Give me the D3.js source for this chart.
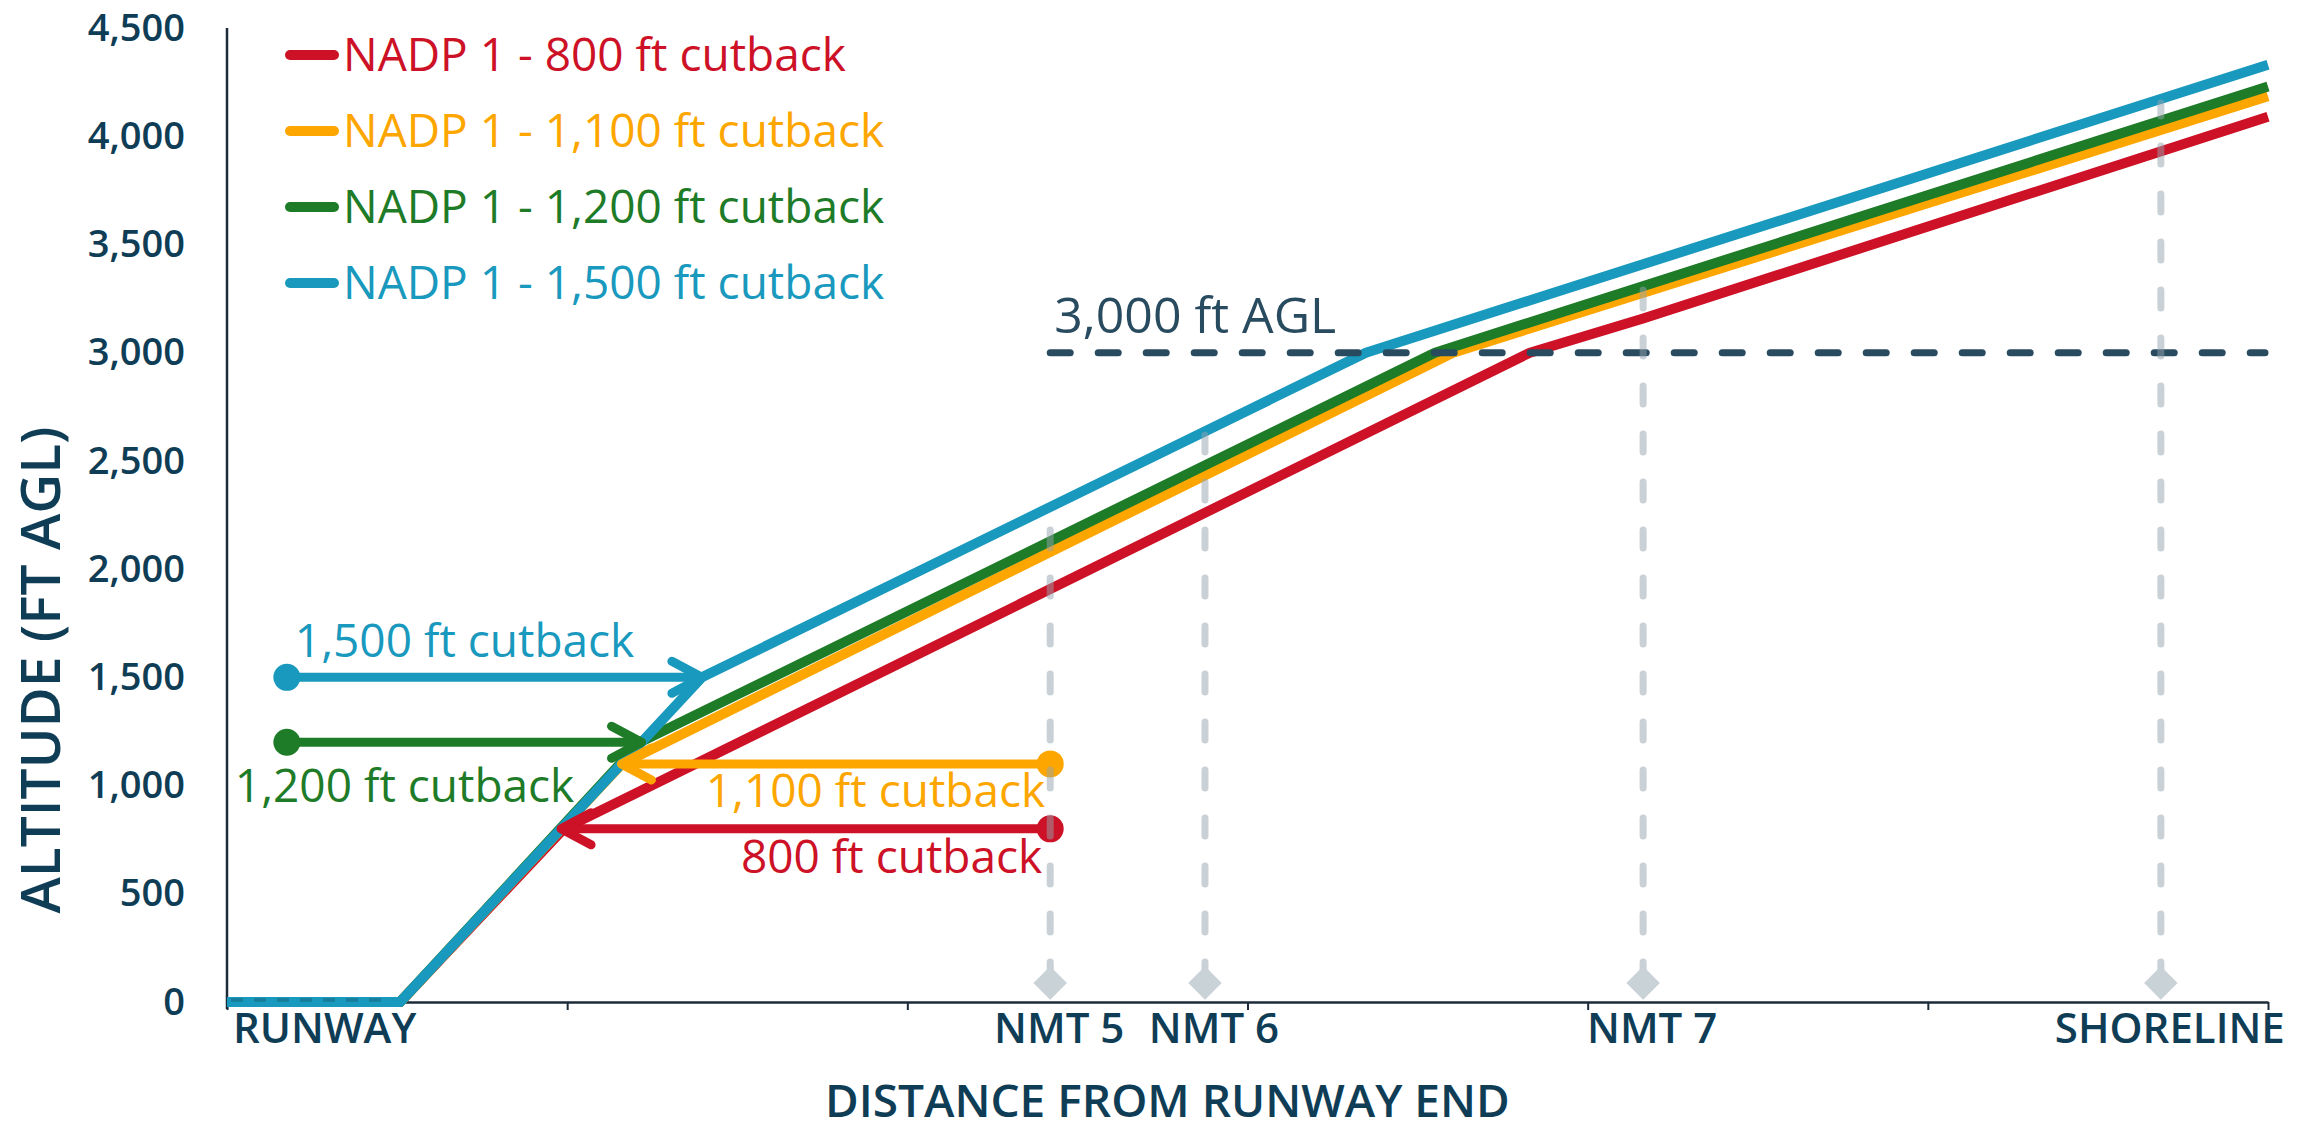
<!DOCTYPE html>
<html>
<head>
<meta charset="utf-8">
<script src="https://cdn.jsdelivr.net/npm/d3@7"></script>
<style>
  body { margin: 0; background: #fff; }
  text { font-family: "Open Sans", "Noto Sans", sans-serif; }
</style>
</head>
<body>
<div id="chart"></div>
<script>
// Dados do grafico
var altTicks = [0, 500, 1000, 1500, 2000, 2500, 3000, 3500, 4000, 4500];
var distTicks = [0, 1, 2, 3, 4, 5, 6];

var seriesNames = ["NADP 1 - 800 ft cutback", "NADP 1 - 1,100 ft cutback",
                   "NADP 1 - 1,200 ft cutback", "NADP 1 - 1,500 ft cutback"];
var cutbackLabels = ["800 ft cutback", "1,100 ft cutback", "1,200 ft cutback", "1,500 ft cutback"];
var cutbackAlt = [800, 1100, 1200, 1500];

// distancia (unidades do eixo) e altitude de cada perfil
var dist800  = [0, 0.509, 0.99, 3.830, 4.163, 6];
var alt800   = [0, 0, 800, 3000, 3158, 4090];
var dist1100 = [0, 0.509, 1.161, 3.604, 6];
var alt1100  = [0, 0, 1100, 3000, 4185];
var dist1200 = [0, 0.509, 1.214, 3.551, 6];
var alt1200  = [0, 0, 1200, 3000, 4230];
var dist1500 = [0, 0.509, 1.396, 3.348, 6];
var alt1500  = [0, 0, 1500, 3000, 4330];

var runwayEnd = 0.509;
var refAlt = 3000;
var refLabel = "3,000 ft AGL";

var landmarkNames = ["NMT 5", "NMT 6", "NMT 7", "SHORELINE"];
var landmarkDist = [2.42, 2.875, 4.163, 5.685];

// Cores
var colors = ["#cd1126", "#fea600", "#1e7b27", "#1899bd"];
var navy = "#0f3d56";

var w = 2303, h = 1124;
var svg = d3.select("#chart").append("svg")
  .attr("width", w).attr("height", h);

var x = d3.scaleLinear().domain([0, 6]).range([227, 2268]);
var y = d3.scaleLinear().domain([0, 4500]).range([1002, 28]);

var series = [
  {dist: dist800, alt: alt800},
  {dist: dist1100, alt: alt1100},
  {dist: dist1200, alt: alt1200},
  {dist: dist1500, alt: alt1500}
].map(function(s, i) {
  return {name: seriesNames[i], color: colors[i], cutback: cutbackAlt[i],
    label: cutbackLabels[i],
    points: s.dist.map(function(d, j) { return [d, s.alt[j]]; })};
});

// altitude do perfil de 1500 ft (o mais alto) em cada distancia
var topAt = d3.scaleLinear().domain(dist1500).range(alt1500);

// Eixos
var yAxis = d3.axisLeft(y).tickValues(altTicks).tickSize(0).tickPadding(42)
  .tickFormat(d3.format(","));
var gy = svg.append("g").attr("transform", "translate(227,0)").call(yAxis);
gy.select(".domain").attr("stroke", "#1d2b38").attr("stroke-width", 2.5)
  .attr("d", "M0," + (y(0) + 7) + "V" + y(4500));
gy.selectAll("text").attr("font-size", 38).attr("font-weight", 600)
  .attr("fill", navy).attr("font-family", "Open Sans");

var xAxis = d3.axisBottom(x).tickValues(distTicks).tickSize(8).tickSizeOuter(0)
  .tickFormat("");
var gx = svg.append("g").attr("transform", "translate(0," + y(0) + ")").call(xAxis);
gx.select(".domain").attr("stroke", "#1d2b38").attr("stroke-width", 2.5);
gx.selectAll(".tick line").attr("stroke", "#1d2b38").attr("stroke-width", 2);

// Linhas dos perfis
var line = d3.line().x(function(d) { return x(d[0]); }).y(function(d) { return y(d[1]); });
svg.selectAll(".profile").data(series).enter().append("path")
  .attr("class", "profile")
  .attr("d", function(d) { return line(d.points); })
  .attr("fill", "none")
  .attr("stroke", function(d) { return d.color; })
  .attr("stroke-width", 10)
  .attr("stroke-linejoin", "round");

// Pista
svg.append("line")
  .attr("x1", x(0) + 4).attr("x2", x(runwayEnd) - 8)
  .attr("y1", y(0) - 2).attr("y2", y(0) - 2)
  .attr("stroke", "#167c9a").attr("stroke-width", 3.5)
  .attr("stroke-dasharray", "12 11");

// Linha de referencia 3000 ft
svg.append("line")
  .attr("x1", x(landmarkDist[0])).attr("x2", x(6) - 3)
  .attr("y1", y(refAlt)).attr("y2", y(refAlt))
  .attr("stroke", "#294b60").attr("stroke-width", 7)
  .attr("stroke-linecap", "round")
  .attr("stroke-dasharray", "20 28");
svg.append("text")
  .attr("x", x(landmarkDist[0]) + 4).attr("y", y(refAlt) - 20)
  .attr("font-size", 50).attr("fill", "#294b60")
  .text(refLabel);

// Setas das anotacoes de cutback
var climbSlope = (cutbackAlt[3] - 0) / (dist1500[2] - runwayEnd);
function climbDist(a) { return runwayEnd + a / climbSlope; }

var annos = [
  {s: series[0], from: landmarkDist[0], dir: -1, tx: landmarkDist[0], anchor: "end", dx: -8, dy: 44},
  {s: series[1], from: landmarkDist[0], dir: -1, tx: landmarkDist[0], anchor: "end", dx: -5, dy: 43},
  {s: series[2], from: 0.176, dir: 1, tx: 0.176, anchor: "start", dx: -52, dy: 60},
  {s: series[3], from: 0.176, dir: 1, tx: 0.176, anchor: "start", dx: 8, dy: -20}
];

var ga = svg.append("g");
annos.forEach(function(a) {
  var tipX = x(climbDist(a.s.cutback));
  var yy = y(a.s.cutback);
  var x0 = x(a.from);
  ga.append("line")
    .attr("x1", x0).attr("x2", tipX).attr("y1", yy).attr("y2", yy)
    .attr("stroke", a.s.color).attr("stroke-width", 9);
  ga.append("polyline")
    .attr("points", [[tipX - a.dir * 30, yy - 16], [tipX, yy], [tipX - a.dir * 30, yy + 16]].join(" "))
    .attr("fill", "none").attr("stroke", a.s.color).attr("stroke-width", 9)
    .attr("stroke-linecap", "round").attr("stroke-linejoin", "round");
  ga.append("circle").attr("cx", x0).attr("cy", yy).attr("r", 13.5)
    .attr("fill", a.s.color);
  ga.append("text")
    .attr("x", x(a.tx) + a.dx).attr("y", yy + a.dy)
    .attr("text-anchor", a.anchor)
    .attr("font-size", 46).attr("fill", a.s.color)
    .text(a.s.label);
});

// Marcos no eixo x
var lm = landmarkNames.map(function(n, i) { return {name: n, dist: landmarkDist[i]}; });
svg.selectAll(".lmline").data(lm).enter().append("path")
  .attr("d", function(d) {
    return "M" + x(d.dist) + "," + (y(0) - 22) + "V" + (y(topAt(d.dist)) + 4);
  })
  .attr("stroke", "#94a4ae").attr("stroke-opacity", 0.5)
  .attr("stroke-width", 7).attr("stroke-linecap", "round")
  .attr("stroke-dasharray", "18 30");
svg.selectAll(".diamond").data(lm).enter().append("path")
  .attr("d", d3.symbol().type(d3.symbolSquare).size(560))
  .attr("transform", function(d) {
    return "translate(" + x(d.dist) + "," + (y(0) - 19) + ") rotate(45)";
  })
  .attr("fill", "#c9d2d7");
svg.selectAll(".lmlabel").data(lm).enter().append("text")
  .attr("x", function(d) { return x(d.dist) + 9; })
  .attr("y", 1043)
  .attr("text-anchor", "middle")
  .attr("font-size", 42).attr("font-weight", 600).attr("fill", navy)
  .text(function(d) { return d.name; });
svg.append("text")
  .attr("x", x(0) + 6).attr("y", 1043)
  .attr("font-size", 42).attr("font-weight", 600).attr("fill", navy)
  .text("RUNWAY");

// Titulos
svg.append("text")
  .attr("x", 825).attr("y", 1117)
  .attr("font-size", 46).attr("font-weight", 600).attr("fill", navy)
  .text("DISTANCE FROM RUNWAY END");
svg.append("text")
  .attr("transform", "translate(60,670) rotate(-90)")
  .attr("text-anchor", "middle")
  .attr("font-size", 55).attr("font-weight", 600).attr("fill", navy)
  .text("ALTITUDE (FT AGL)");

// Legenda
var lg = svg.selectAll(".legend").data(series).enter().append("g")
  .attr("transform", function(d, i) { return "translate(0," + (55 + i * 76) + ")"; });
lg.append("line").attr("x1", 290).attr("x2", 334)
  .attr("stroke", function(d) { return d.color; })
  .attr("stroke-width", 10).attr("stroke-linecap", "round");
lg.append("text").attr("x", 343).attr("y", 16)
  .attr("font-size", 46).attr("fill", function(d) { return d.color; })
  .text(function(d) { return d.name; });
</script>
</body>
</html>
